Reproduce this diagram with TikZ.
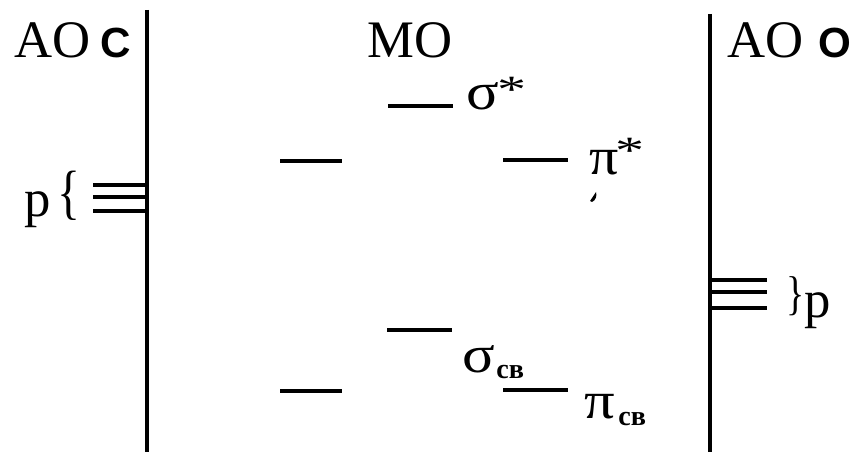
\documentclass[tikz,border=0pt]{standalone}
\usepackage{fontspec}
\setmainfont{Liberation Serif}
\newfontfamily\boldsans{Liberation Sans}
\begin{document}
\begin{tikzpicture}[x=0.02cm,y=-0.02cm,
  axis/.style={line width=2pt},
  level/.style={line width=1.9pt},
  txt/.style={inner sep=0pt,anchor=base west,font=\fontsize{30}{30}\selectfont},
  elem/.style={inner sep=0pt,anchor=base west,font=\fontsize{24}{24}\selectfont\boldsans\bfseries},
  star/.style={inner sep=0pt,anchor=base west,font=\fontsize{22}{22}\selectfont},
  sub/.style={inner sep=0pt,anchor=base west,font=\fontsize{16}{16}\selectfont\bfseries}]
\useasboundingbox (0,0) rectangle (854,452);
% axes
\coordinate (lt) at (147,10);
\coordinate (lb) at (147,452);
\coordinate (rt) at (710,14);
\coordinate (rb) at (710,452);
\draw[axis] (lt) -- (lb);
\draw[axis] (rt) -- (rb);
% headers
\node[txt] (aoc) at (14,58) {AO};
\node[elem] (c) at (100,58) {C};
\node[txt] (mo) at (367,58) {MO};
\node[txt] (aoo) at (727,58) {AO};
\node[elem] (o) at (818,58) {O};
% C p levels
\foreach \i/\y in {1/185,2/197,3/211}{
  \coordinate (cpa\i) at (93,\y);
  \coordinate (cpb\i) at (147,\y);
  \draw[level] (cpa\i) -- (cpb\i);
}
\node[txt] (pc) at (24,217) {p};
\node[inner sep=0pt,anchor=base west,font=\fontsize{34}{34}\selectfont] (bc) at (57,213) {\scalebox{0.8}[1]{\{}};
% O p levels
\foreach \i/\y in {1/280,2/292,3/308}{
  \coordinate (opa\i) at (710,\y);
  \coordinate (opb\i) at (767,\y);
  \draw[level] (opa\i) -- (opb\i);
}
\node[inner sep=0pt,anchor=base west,font=\fontsize{27}{27}\selectfont] (bo) at (786,309) {\scalebox{0.8}[1]{\}}};
\node[txt] (po) at (804,317) {p};
% MO levels
\coordinate (s1a) at (388,106); \coordinate (s1b) at (453,106);
\draw[level] (s1a) -- (s1b);
\coordinate (pl1a) at (280,161); \coordinate (pl1b) at (342,161);
\draw[level] (pl1a) -- (pl1b);
\coordinate (pr1a) at (503,160); \coordinate (pr1b) at (568,160);
\draw[level] (pr1a) -- (pr1b);
\coordinate (s2a) at (387,330); \coordinate (s2b) at (452,330);
\draw[level] (s2a) -- (s2b);
\coordinate (pl2a) at (280,391); \coordinate (pl2b) at (342,391);
\draw[level] (pl2a) -- (pl2b);
\coordinate (pr2a) at (503,390); \coordinate (pr2b) at (568,390);
\draw[level] (pr2a) -- (pr2b);
% labels
\node[txt] (sst) at (466,110) {\scalebox{1.15}[1]{σ}};
\node[star] (sstar) at (497,103) {\scalebox{1.5}[1]{*}};
\node[txt] (pst) at (589,175) {\scalebox{1.1}[1]{π}};
\node[star] (pstar) at (615,164) {\scalebox{1.5}[1]{*}};
\node[txt] (ssv) at (462,372) {\scalebox{1.15}[1]{σ}};
\node[sub] (ssvs) at (496,378) {св};
\node[txt] (psv) at (584,418) {\scalebox{1.15}[1]{π}};
\node[sub] (psvs) at (618,425) {св};
% small mark
\fill (596,192) .. controls (597,196) and (596,200) .. (592,202) -- (590,201) .. controls (592,198) and (594,195) .. (596,192) -- cycle;
\end{tikzpicture}
\end{document}
